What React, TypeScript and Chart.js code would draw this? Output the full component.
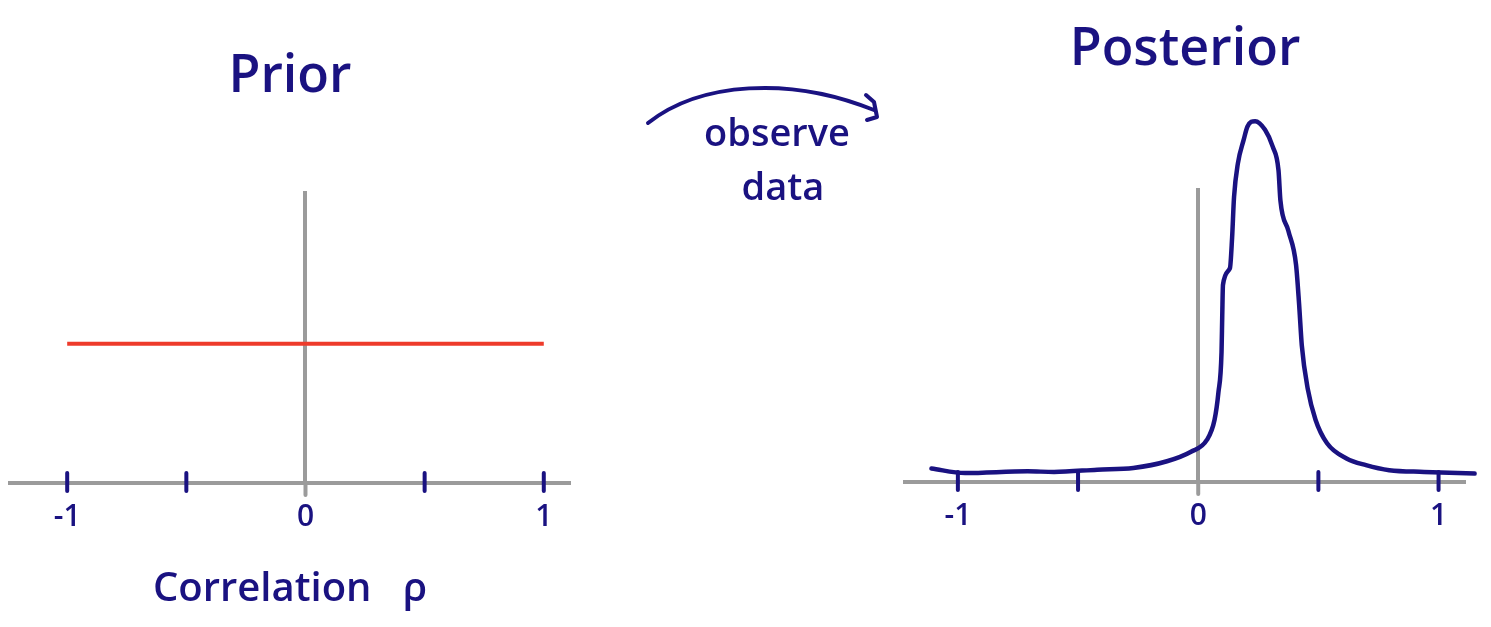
import React, { useEffect, useRef } from 'react';
import { Chart, registerables } from 'chart.js';

Chart.register(...registerables);

const NAVY = '#1a1281';
const RED = '#ee3b2b';
const GRAY = '#9b9b9b';
const FONT = '"Open Sans", "DejaVu Sans", sans-serif';

// x-axis ticks shared by both panels
const tickValues = [-1, -0.5, 0, 0.5, 1];
const tickLabels = ['-1', '', '0', '', '1'];

// Prior: flat density over the correlation range
const priorX = [-1, 1];
const priorY = [0.5, 0.5];

// Posterior density after observing data
const postX = [
  -1.11, -0.97, -0.71, -0.6, -0.42, -0.27, -0.13, -0.03, 0.036, 0.068, 0.084, 0.097, 0.1,
  0.103, 0.132, 0.141, 0.149, 0.165, 0.189, 0.205, 0.237, 0.278, 0.31, 0.334, 0.342, 0.375,
  0.407, 0.42, 0.431, 0.456, 0.488, 0.536, 0.617, 0.698, 0.795, 0.94, 1.15,
];
const postY = [
  0.048, 0.032, 0.038, 0.036, 0.044, 0.05, 0.074, 0.108, 0.15, 0.222, 0.319, 0.463, 0.595,
  0.703, 0.763, 0.872, 1.016, 1.136, 1.22, 1.268, 1.287, 1.256, 1.196, 1.112, 1.004, 0.896,
  0.775, 0.631, 0.487, 0.331, 0.222, 0.138, 0.084, 0.06, 0.042, 0.036, 0.03,
];

const W = 1491;
const H = 627;
const LEFT_CANVAS = { left: 0, width: 600 };
const RIGHT_CANVAS = { left: 600, width: 891 };

const toPoints = (xs: number[], ys: number[]) => xs.map((x, i) => ({ x, y: ys[i] }));

// Short hand-drawn style tick marks crossing the x axis
const crossTicks = {
  id: 'crossTicks',
  afterDraw(chart: any) {
    const { ctx, chartArea, scales } = chart;
    const xs = scales.x;
    const y0 = chartArea.bottom;
    ctx.save();
    ctx.lineCap = 'round';
    ctx.lineWidth = 4;
    tickValues.forEach((v) => {
      const px = xs.getPixelForValue(v);
      ctx.beginPath();
      if (v === 0) {
        ctx.strokeStyle = GRAY;
        ctx.moveTo(px, y0);
        ctx.lineTo(px, y0 + 12);
      } else {
        ctx.strokeStyle = NAVY;
        ctx.moveTo(px, y0 - 10);
        ctx.lineTo(px, y0 + 8);
      }
      ctx.stroke();
    });
    ctx.restore();
  },
};

// Curved arrow with the "observe data" note between the panels
const observeNote = {
  id: 'observeNote',
  afterDraw(chart: any) {
    const { ctx } = chart;
    const ox = RIGHT_CANVAS.left;
    ctx.save();
    ctx.strokeStyle = NAVY;
    ctx.fillStyle = NAVY;
    ctx.lineWidth = 4;
    ctx.lineCap = 'round';
    ctx.lineJoin = 'round';
    ctx.beginPath();
    ctx.moveTo(648 - ox, 123);
    ctx.bezierCurveTo(700 - ox, 82, 790 - ox, 76, 874 - ox, 110);
    ctx.stroke();
    ctx.beginPath();
    ctx.moveTo(866 - ox, 95);
    ctx.lineTo(874 - ox, 102);
    ctx.lineTo(877 - ox, 117);
    ctx.lineTo(867 - ox, 120);
    ctx.stroke();
    ctx.font = `600 38px ${FONT}`;
    ctx.textAlign = 'center';
    ctx.textBaseline = 'alphabetic';
    ctx.fillText('observe', 777 - ox, 146);
    ctx.fillText('data', 783 - ox, 200);
    ctx.restore();
  },
};

function xScale(min: number, max: number, height: number, withTitle: boolean) {
  return {
    type: 'linear',
    position: 'bottom',
    min,
    max,
    afterBuildTicks: (s: any) => {
      s.ticks = tickValues.map((value) => ({ value }));
    },
    afterFit: (s: any) => {
      s.height = height;
      s.paddingLeft = 0;
      s.paddingRight = 0;
    },
    grid: { display: true, drawOnChartArea: false, drawTicks: false },
    border: { color: GRAY, width: 4 },
    ticks: {
      color: NAVY,
      font: { family: FONT, size: 30, weight: '600' },
      padding: 16,
      maxRotation: 0,
      autoSkip: false,
      callback: (value: number) => tickLabels[tickValues.indexOf(value)] ?? '',
    },
    title: {
      display: withTitle,
      text: 'Correlation   ρ',
      color: NAVY,
      font: { family: FONT, size: 40, weight: '600' },
      padding: 0,
    },
  };
}

function yScale() {
  return {
    type: 'linear',
    position: { x: 0 },
    min: 0,
    max: 1.04,
    ticks: { display: false },
    grid: { display: true, drawOnChartArea: false, drawTicks: false },
    border: { color: GRAY, width: 4 },
  };
}

function titleOpts(text: string, top: number, bottom: number) {
  return {
    display: true,
    text,
    color: NAVY,
    font: { family: FONT, size: 52, weight: '600' },
    padding: { top, bottom },
  };
}

function priorConfig(): any {
  return {
    type: 'scatter',
    data: {
      datasets: [
        {
          label: 'Prior',
          data: toPoints(priorX, priorY),
          showLine: true,
          borderColor: RED,
          borderWidth: 4,
          pointRadius: 0,
          clip: false,
        },
      ],
    },
    options: {
      responsive: false,
      animation: false,
      layout: { padding: { left: 10, right: 30, top: 0, bottom: 13 } },
      plugins: {
        legend: { display: false },
        tooltip: { enabled: false },
        title: titleOpts('Prior', 46, 85),
      },
      scales: { x: xScale(-1.24, 1.11, 131, true), y: yScale() },
    },
    plugins: [crossTicks],
  };
}

function posteriorConfig(): any {
  return {
    type: 'scatter',
    data: {
      datasets: [
        {
          label: 'Posterior',
          data: toPoints(postX, postY),
          showLine: true,
          borderColor: NAVY,
          borderWidth: 4.5,
          pointRadius: 0,
          cubicInterpolationMode: 'monotone',
          borderCapStyle: 'round',
          borderJoinStyle: 'round',
          clip: false,
        },
      ],
    },
    options: {
      responsive: false,
      animation: false,
      layout: { padding: { left: 305, right: 26, top: 0, bottom: 65 } },
      plugins: {
        legend: { display: false },
        tooltip: { enabled: false },
        title: titleOpts('Posterior', 19, 109),
      },
      scales: { x: xScale(-1.22, 1.11, 80, false), y: yScale() },
    },
    plugins: [crossTicks, observeNote],
  };
}

function Panel({ left, width, config }: { left: number; width: number; config: () => any }) {
  const ref = useRef<HTMLCanvasElement | null>(null);
  useEffect(() => {
    if (!ref.current) return;
    const chart = new Chart(ref.current, config());
    return () => chart.destroy();
  }, [config]);
  return (
    <canvas
      ref={ref}
      width={width}
      height={H}
      style={{ position: 'absolute', left, top: 0, width, height: H, display: 'block' }}
    />
  );
}

export default function App() {
  return (
    <div
      style={{
        position: 'fixed',
        left: 0,
        top: 0,
        width: W,
        height: H,
        background: '#ffffff',
        overflow: 'hidden',
      }}
    >
      <Panel left={LEFT_CANVAS.left} width={LEFT_CANVAS.width} config={priorConfig} />
      <Panel left={RIGHT_CANVAS.left} width={RIGHT_CANVAS.width} config={posteriorConfig} />
    </div>
  );
}
